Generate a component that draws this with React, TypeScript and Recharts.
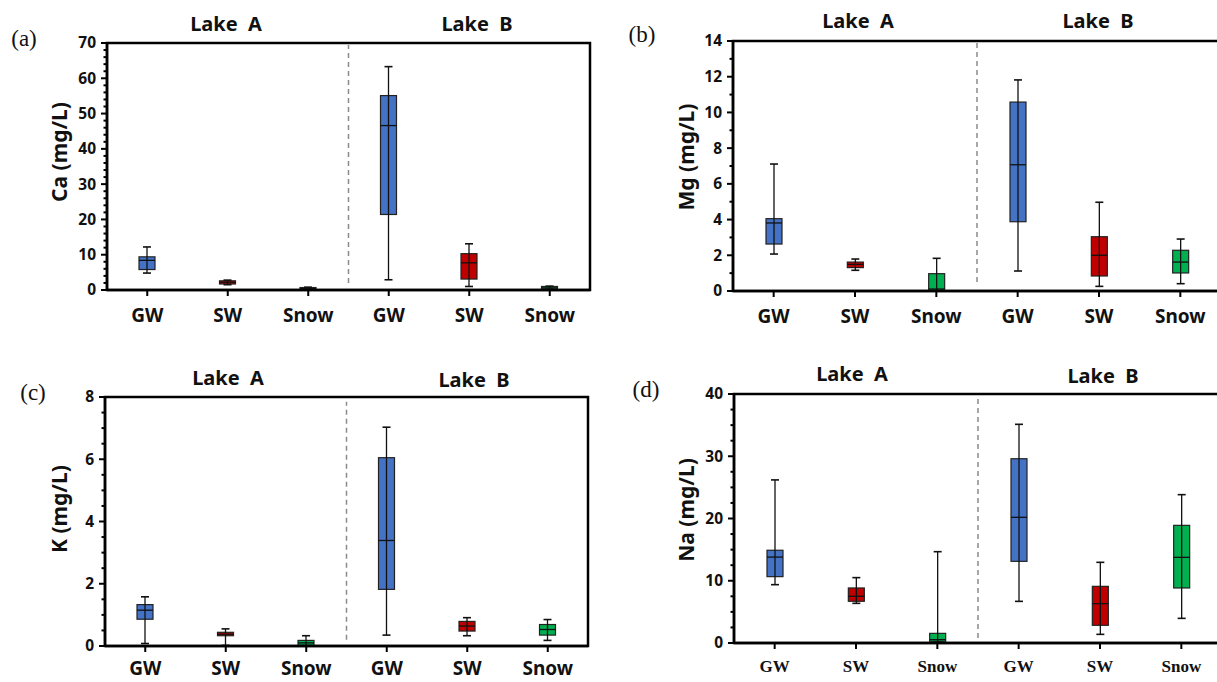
import React from "react";
import {
  ComposedChart,
  Bar,
  XAxis,
  YAxis,
  ReferenceLine,
  ReferenceArea,
} from "recharts";

const CATEGORIES = ["GW", "SW", "Snow", "GW", "SW", "Snow"];
const BOX_COLORS = ["#4472C4", "#C00000", "#00B050", "#4472C4", "#C00000", "#00B050"];
const LAKES = ["Lake A", "Lake B"];

// Ca (mg/L)
const caMin = [4.8, 1.5, 0.1, 2.9, 1.0, 0.2];
const caQ1 = [5.8, 1.7, 0.2, 21.4, 3.1, 0.3];
const caMed = [8.4, 2.2, 0.4, 46.6, 7.7, 0.6];
const caQ3 = [9.4, 2.6, 0.7, 55.1, 10.3, 1.0];
const caMax = [12.2, 2.8, 0.8, 63.3, 13.1, 1.1];

// Mg (mg/L)
const mgMin = [2.07, 1.16, 0, 1.12, 0.26, 0.41];
const mgQ1 = [2.63, 1.31, 0.04, 3.88, 0.84, 1.01];
const mgMed = [3.81, 1.49, 0.11, 7.07, 2.0, 1.62];
const mgQ3 = [4.05, 1.62, 0.97, 10.58, 3.04, 2.28];
const mgMax = [7.11, 1.79, 1.83, 11.82, 4.97, 2.91];

// K (mg/L)
const kMin = [0.08, 0.02, 0, 0.35, 0.33, 0.18];
const kQ1 = [0.86, 0.33, 0.03, 1.82, 0.48, 0.35];
const kMed = [1.15, 0.38, 0.1, 3.39, 0.64, 0.53];
const kQ3 = [1.33, 0.44, 0.18, 6.05, 0.79, 0.69];
const kMax = [1.58, 0.55, 0.33, 7.03, 0.91, 0.85];

// Na (mg/L)
const naMin = [9.37, 6.37, 0.1, 6.69, 1.39, 3.96];
const naQ1 = [10.66, 6.7, 0.27, 13.12, 2.84, 8.84];
const naMed = [13.8, 7.5, 0.54, 20.19, 6.32, 13.76];
const naQ3 = [14.9, 8.84, 1.55, 29.6, 9.1, 18.9];
const naMax = [26.2, 10.5, 14.67, 35.13, 12.96, 23.83];

const SANS = "'Noto Sans', 'Open Sans', sans-serif";
const SERIF = "'Liberation Serif', 'DejaVu Serif', serif";
const AXIS_W = 2.5;

function buildRows(mins, q1s, meds, q3s, maxs) {
  return CATEGORIES.map((name, i) => ({
    idx: i,
    name,
    min: mins[i],
    q1: q1s[i],
    med: meds[i],
    q3: q3s[i],
    max: maxs[i],
    color: BOX_COLORS[i],
  }));
}

function BoxShape(props) {
  const { x, y, width, height, payload } = props;
  if (x == null || y == null) return null;
  const { min, q1, med, q3, max, color } = payload;
  const k = max > min ? height / (max - min) : 0;
  const yv = (v) => y + (max - v) * k;
  const cx = x + width / 2;
  const cap = 4;
  return (
    <g>
      <rect
        x={x}
        y={yv(q3)}
        width={width}
        height={Math.max(yv(q1) - yv(q3), 1)}
        fill={color}
        stroke="#222"
        strokeWidth={1.2}
      />
      <line x1={cx} x2={cx} y1={y} y2={y + height} stroke="#111" strokeWidth={1.3} />
      <line x1={cx - cap} x2={cx + cap} y1={y} y2={y} stroke="#111" strokeWidth={1.6} />
      <line x1={cx - cap} x2={cx + cap} y1={y + height} y2={y + height} stroke="#111" strokeWidth={1.6} />
      <line x1={x} x2={x + width} y1={yv(med)} y2={yv(med)} stroke="#111" strokeWidth={1.3} />
    </g>
  );
}

function makeYTick(major) {
  return function YTick(props) {
    const { x, y, payload } = props;
    const v = payload.value;
    const isMajor = Math.abs(v / major - Math.round(v / major)) < 1e-6;
    return (
      <g>
        <line x1={x} x2={x - (isMajor ? 6 : 3.5)} y1={y} y2={y} stroke="#000" strokeWidth={2} />
        {isMajor && (
          <text
            x={x - 11}
            y={y}
            dy="0.35em"
            textAnchor="end"
            fontFamily={SANS}
            fontWeight="bold"
            fontSize={15.5}
            fill="#111"
          >
            {v}
          </text>
        )}
      </g>
    );
  };
}

function Panel({
  rows,
  plot,
  yMax,
  major,
  minor,
  divider,
  yLabel,
  letter,
  letterPos,
  labelPos,
  titlePos,
  serifX,
  tickGap,
}) {
  const padL = 110;
  const padT = 45;
  const padR = 20;
  const padB = 45;
  const plotW = plot.right - plot.left;
  const plotH = plot.bottom - plot.top;
  const yTicks = [];
  for (let v = 0; v <= yMax + 1e-9; v += minor) yTicks.push(Math.round(v * 100) / 100);

  return (
    <>
      <div
        style={{
          position: "absolute",
          left: plot.left - padL,
          top: plot.top - padT,
        }}
      >
        <ComposedChart
          width={plotW + padL + padR}
          height={plotH + padT + padB}
          data={rows}
          margin={{ top: padT, left: padL - 50, right: padR, bottom: padB - 40 }}
        >
          <XAxis
            dataKey="idx"
            type="number"
            domain={[-0.5, 5.5]}
            ticks={[0, 1, 2, 3, 4, 5]}
            interval={0}
            allowDataOverflow
            tickFormatter={(i) => CATEGORIES[i]}
            height={40}
            axisLine={{ stroke: "#000", strokeWidth: AXIS_W }}
            tickLine={{ stroke: "#000", strokeWidth: 2 }}
            tickSize={6}
            tickMargin={tickGap}
            tick={{
              fontFamily: serifX ? SERIF : SANS,
              fontWeight: "bold",
              fontSize: serifX ? 17 : 19,
              fill: "#111",
            }}
          />
          <YAxis
            type="number"
            domain={[0, yMax]}
            ticks={yTicks}
            interval={0}
            allowDataOverflow
            width={50}
            tickSize={0}
            tickMargin={0}
            tickLine={false}
            axisLine={{ stroke: "#000", strokeWidth: AXIS_W }}
            tick={makeYTick(major)}
          />
          <ReferenceArea
            x1={-0.5}
            x2={5.5}
            y1={0}
            y2={yMax}
            fill="none"
            fillOpacity={0}
            stroke="#000"
            strokeWidth={AXIS_W}
            ifOverflow="visible"
          />
          <ReferenceLine
            segment={[
              { x: 2.5, y: divider[0] },
              { x: 2.5, y: divider[1] },
            ]}
            stroke="#8a8a8a"
            strokeWidth={1.5}
            strokeDasharray="5 4"
          />
          <Bar
            dataKey={(d) => [d.min, d.max]}
            barSize={16}
            shape={BoxShape}
            isAnimationActive={false}
          />
        </ComposedChart>
      </div>
      <div
        style={{
          position: "absolute",
          left: letterPos[0],
          top: letterPos[1],
          transform: "translate(-50%, -50%)",
          fontFamily: SERIF,
          fontSize: 23,
          color: "#111",
          whiteSpace: "nowrap",
        }}
      >
        {letter}
      </div>
      <div
        style={{
          position: "absolute",
          left: labelPos[0],
          top: labelPos[1],
          transform: "translate(-50%, -50%) rotate(-90deg)",
          fontFamily: SANS,
          fontWeight: "bold",
          fontSize: 21,
          color: "#111",
          whiteSpace: "nowrap",
        }}
      >
        {yLabel}
      </div>
      {LAKES.map((lake, i) => (
        <div
          key={lake}
          style={{
            position: "absolute",
            left: titlePos[i][0],
            top: titlePos[i][1],
            transform: "translate(-50%, -50%)",
            fontFamily: SANS,
            fontWeight: "bold",
            fontSize: 20,
            color: "#111",
            whiteSpace: "nowrap",
          }}
        >
          {lake.replace(" ", "\u00a0\u00a0")}
        </div>
      ))}
    </>
  );
}

export default function App() {
  return (
    <div
      style={{
        position: "absolute",
        left: 0,
        top: 0,
        width: 1217,
        height: 682,
        overflow: "hidden",
        background: "#fff",
      }}
    >
      <Panel
        rows={buildRows(caMin, caQ1, caMed, caQ3, caMax)}
        plot={{ left: 107, right: 590, top: 43, bottom: 290 }}
        yMax={70}
        major={10}
        minor={2}
        divider={[2, 69.4]}
        yLabel="Ca (mg/L)"
        letter="(a)"
        letterPos={[24, 39]}
        labelPos={[59, 152]}
        titlePos={[
          [226, 23],
          [477, 23],
        ]}
        tickGap={13}
      />
      <Panel
        rows={buildRows(mgMin, mgQ1, mgMed, mgQ3, mgMax)}
        plot={{ left: 733, right: 1221, top: 41, bottom: 291 }}
        yMax={14}
        major={2}
        minor={1}
        divider={[0.5, 13.9]}
        yLabel="Mg (mg/L)"
        letter="(b)"
        letterPos={[642, 35]}
        labelPos={[686, 157]}
        titlePos={[
          [858, 20],
          [1098, 20],
        ]}
        tickGap={13}
      />
      <Panel
        rows={buildRows(kMin, kQ1, kMed, kQ3, kMax)}
        plot={{ left: 105, right: 588, top: 397, bottom: 646 }}
        yMax={8}
        major={2}
        minor={0.5}
        divider={[0.2, 7.85]}
        yLabel="K (mg/L)"
        letter="(c)"
        letterPos={[33, 393]}
        labelPos={[59, 509]}
        titlePos={[
          [228, 377],
          [474, 379],
        ]}
        tickGap={10}
      />
      <Panel
        rows={buildRows(naMin, naQ1, naMed, naQ3, naMax)}
        plot={{ left: 734, right: 1222, top: 394, bottom: 643 }}
        yMax={40}
        major={10}
        minor={2.5}
        divider={[0.8, 39.2]}
        yLabel="Na (mg/L)"
        letter="(d)"
        letterPos={[646, 390]}
        labelPos={[686, 510]}
        titlePos={[
          [852, 373],
          [1103, 375],
        ]}
        serifX
        tickGap={11}
      />
    </div>
  );
}
